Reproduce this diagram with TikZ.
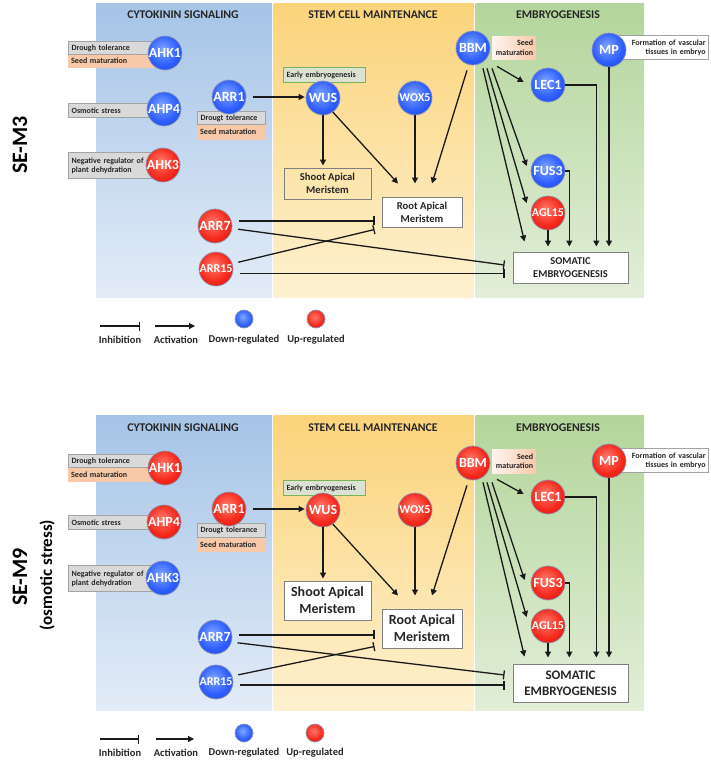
\documentclass[tikz,border=0pt]{standalone}
\usepackage{fontspec}
\setmainfont{Carlito}
\usetikzlibrary{arrows.meta,calc}
\definecolor{bA}{HTML}{7FA6FF}
\definecolor{bB}{HTML}{2F5EFF}
\definecolor{bC}{HTML}{0A2CD0}
\definecolor{rA}{HTML}{FF7A6A}
\definecolor{rB}{HTML}{F52A1E}
\definecolor{rC}{HTML}{C00000}
\definecolor{ringc}{HTML}{8C96B4}
\definecolor{bluetop}{HTML}{A5C4E7}
\definecolor{bluebot}{HTML}{E3ECF7}
\definecolor{yeltop}{HTML}{FBD37A}
\definecolor{yelbot}{HTML}{FDF1D0}
\definecolor{grntop}{HTML}{B3D59B}
\definecolor{grnbot}{HTML}{E2EED8}
\definecolor{lgray}{HTML}{D9D9D9}
\definecolor{dgray}{HTML}{A3A3A3}
\definecolor{peach}{HTML}{F7C9A9}
\definecolor{egreen}{HTML}{DCE2D2}
\definecolor{ggreen}{HTML}{7BB35A}
\definecolor{boxc}{HTML}{808080}
\definecolor{ink}{HTML}{1A1A1A}
\definecolor{txt}{HTML}{262626}
\pgfdeclareradialshading{blueball}{\pgfpoint{-4bp}{6bp}}{color(0bp)=(bA); color(22bp)=(bB); color(50bp)=(bC); color(80bp)=(bC)}
\pgfdeclareradialshading{redball}{\pgfpoint{-4bp}{6bp}}{color(0bp)=(rA); color(22bp)=(rB); color(50bp)=(rC); color(80bp)=(rC)}
\newcommand\gfs[2]{\bfseries\fontsize{#1}{#2}\selectfont}
\tikzset{
  gene/.style={circle, minimum size=34pt, inner sep=0pt, draw=ringc, line width=0.7pt, text=white, font=\gfs{14}{15}},
  dn/.style={gene, shading=blueball},
  up/.style={gene, shading=redball},
  lgball/.style={minimum size=18pt},
  ttl/.style={font=\gfs{11.8}{13}, text=txt},
  lab/.style={anchor=north west, inner xsep=3pt, inner ysep=0pt, font=\gfs{8}{9.5}, text=txt},
  gbox/.style={lab, fill=lgray, draw=dgray, line width=1.2pt, align=left},
  pbox/.style={lab, fill=peach, align=left},
  ebox/.style={lab, fill=egreen, draw=ggreen, line width=1.2pt, align=left},
  sbox/.style={lab, left color=peach!20, right color=peach, align=right},
  mbox/.style={lab, fill=white, draw=dgray, line width=1.2pt, align=right},
  res/.style={draw=boxc, line width=1pt, fill=white, align=center, text=txt, inner sep=0pt},
  act/.style={-{Triangle[length=6pt,width=6pt]}, line width=1.3pt, draw=ink},
  inh/.style={-{Bar[width=9pt,line width=1.3pt]}, line width=1.3pt, draw=ink},
  legtxt/.style={font=\gfs{10.5}{12}, text=txt},
  side/.style={rotate=90, text=black},
}
\begin{document}
\begin{tikzpicture}[x=1pt,y=-1pt]
\useasboundingbox (0,0) rectangle (711,761);

% ================= TOP PANEL (SE-M3) =================
\fill[top color=bluetop, bottom color=bluebot] (96,3) rectangle (272,297);
\fill[top color=yeltop, bottom color=yelbot] (273.5,3) rectangle (474,297);
\fill[top color=grntop, bottom color=grnbot] (475.5,3) rectangle (644,297);
\node[ttl] (t1) at (183,15) {CYTOKININ SIGNALING};
\node[ttl] (t2) at (373,15) {STEM CELL MAINTENANCE};
\node[ttl] (t3) at (558,15) {EMBRYOGENESIS};
\node[side, font=\gfs{22}{24}] (sm3) at (20,145) {SE-M3};

% labels
\node[pbox, minimum width=87pt, minimum height=14pt, text width=81pt] (a1p) at (68,54) {Seed maturation};
\node[gbox, minimum width=87pt, minimum height=13pt, text width=81pt] (a1g) at (68,41) {Drough tolerance};
\node[gbox, minimum width=85pt, minimum height=14pt, text width=79pt] (a4g) at (68,103) {Osmotic stress};
\node[gbox, minimum width=83pt, minimum height=26pt, text width=77pt] (a3g) at (68,152) {Negative regulator of\\plant dehydration};
\node[pbox, minimum width=68pt, minimum height=16pt, text width=62pt] (r1p) at (197,124) {Seed maturation};
\node[gbox, minimum width=68pt, minimum height=13pt, text width=62pt] (r1g) at (197,111) {Drougt tolerance};
\node[ebox, minimum width=82pt, minimum height=15pt, text width=76pt] (wl) at (283,67) {Early embryogenesis};
\node[sbox, minimum width=44pt, minimum height=23pt, text width=38pt] (bl) at (492,36) {Seed\\maturation};
\node[mbox, minimum width=91pt, minimum height=24pt, text width=85pt] (ml) at (617,35) {Formation of vascular\\tissues in embryo};

% genes
\node[dn] (ahk1) at (165,53) {AHK1};
\node[dn] (ahp4) at (164,109) {AHP4};
\node[up] (ahk3) at (163,165) {AHK3};
\node[dn] (arr1) at (229,97) {ARR1};
\node[up] (arr7) at (215,226) {ARR7};
\node[up, font=\gfs{12}{13}] (arr15) at (216,269) {ARR15};
\node[dn] (wus) at (323,98) {WUS};
\node[dn, font=\gfs{12}{13}] (wox5) at (415,98) {WOX5};
\node[dn] (bbm) at (473,48) {BBM};
\node[dn] (mp) at (609,50) {MP};
\node[dn] (lec1) at (548,85) {LEC1};
\node[dn] (fus3) at (548,171) {FUS3};
\node[up, font=\gfs{12}{13}] (agl15) at (548,213) {AGL15};

% result boxes
\node[res, fill=none, minimum width=87pt, minimum height=31pt, font=\gfs{10.6}{13}] (sam) at (327.5,183.5) {Shoot Apical\\Meristem};
\node[res, minimum width=80pt, minimum height=30pt, font=\gfs{10.6}{13}] (ram) at (422,212) {Root Apical\\Meristem};
\node[res, minimum width=115pt, minimum height=31pt, font=\gfs{10.5}{13}] (se) at (570.5,267.5) {SOMATIC\\EMBRYOGENESIS};

% connectors
\draw[act, shorten <=7pt, shorten >=1pt] (arr1.east) -- (arr1.east -| wus.west);
\draw[act, shorten >=2pt] (wus.south) -- (wus.south |- sam.north);
\coordinate (rtA) at ($(ram.north)+(-24,-13)$);
\coordinate (rtB) at ($(ram.north)+(-7,-13)$);
\coordinate (rtC) at ($(ram.north)+(10,-13)$);
\draw[act] (wus.-55) -- (rtA);
\draw[act] (wox5.south) -- (wox5.south |- rtB);
\draw[act] ($(bbm.south)+(-6,5)$) -- (rtC);
\draw[inh, shorten <=7pt, shorten >=7pt] (arr7.17) -- (arr7.17 -| ram.west);
\draw[inh, shorten <=6pt] (arr15.18) -- ($(ram.south west)+(-7,2)$);
\draw[inh, shorten <=6pt] (arr7.-8) -- ($(se.west)+(-8,-2.5)$);
\draw[inh, shorten <=7pt, shorten >=8pt] (arr15.-14) -- (arr15.-14 -| se.west);
\draw[act] ($(bbm.south)+(24,1)$) -- ($(lec1.west)+(-7,-3)$);
\draw[act] ($(bbm.south)+(19,3)$) -- ($(fus3.west)+(-4,-5)$);
\draw[act] ($(bbm.south)+(14,3)$) -- ($(agl15.west)+(-4,-10)$);
\draw[act] ($(bbm.south)+(10,3)$) -- ($(se.north west)+(12,-10)$);
\draw[act, shorten >=5pt] (agl15.south) -- (agl15.south |- se.north);
\draw[act, shorten >=5pt] (fus3.east) -| ($(fus3.east |- se.north)+(4,0)$);
\draw[act, shorten >=5pt] (lec1.east) -| ($(lec1.east |- se.north)+(31,0)$);
\draw[act, shorten >=5pt] (mp.south) -- (mp.south |- se.north);

% legend top
\coordinate (li1) at (100,326); \coordinate (li2) at (140,326);
\coordinate (la1) at (155,326); \coordinate (la2) at (195,326);
\draw[inh] (li1) -- (li2);
\draw[act] (la1) -- (la2);
\node[dn, lgball] (ld) at (244,319) {};
\node[up, lgball] (lu) at (316,319) {};
\node[legtxt] (lt1) at (120,340) {Inhibition};
\node[legtxt] (lt2) at (176,340) {Activation};
\node[legtxt] (lt3) at (244,340) {Down-regulated};
\node[legtxt] (lt4) at (316,340) {Up-regulated};

% ================= BOTTOM PANEL (SE-M9) =================
\fill[top color=bluetop, bottom color=bluebot] (96,415) rectangle (272,710);
\fill[top color=yeltop, bottom color=yelbot] (273.5,415) rectangle (474,710);
\fill[top color=grntop, bottom color=grnbot] (475.5,415) rectangle (644,710);
\node[ttl] (u1) at (183,428) {CYTOKININ SIGNALING};
\node[ttl] (u2) at (373,428) {STEM CELL MAINTENANCE};
\node[ttl] (u3) at (558,428) {EMBRYOGENESIS};
\node[side, font=\gfs{22}{24}] (sm9) at (20,577) {SE-M9};
\node[side, font=\gfs{17}{19}] (sos) at (47,575) {(osmotic stress)};

% labels
\node[pbox, minimum width=87pt, minimum height=15pt, text width=81pt] (b1p) at (68,467) {Seed maturation};
\node[gbox, minimum width=87pt, minimum height=13pt, text width=81pt] (b1g) at (68,454) {Drough tolerance};
\node[gbox, minimum width=85pt, minimum height=14pt, text width=79pt] (b4g) at (68,515) {Osmotic stress};
\node[gbox, minimum width=83pt, minimum height=26pt, text width=77pt] (b3g) at (68,565) {Negative regulator of\\plant dehydration};
\node[pbox, minimum width=68pt, minimum height=15pt, text width=62pt] (s1p) at (197,537) {Seed maturation};
\node[gbox, minimum width=68pt, minimum height=14pt, text width=62pt] (s1g) at (197,523) {Drougt tolerance};
\node[ebox, minimum width=82pt, minimum height=15pt, text width=76pt] (wl2) at (283,480) {Early embryogenesis};
\node[sbox, minimum width=44pt, minimum height=24pt, text width=38pt] (bl2) at (492,449) {Seed\\maturation};
\node[mbox, minimum width=91pt, minimum height=24pt, text width=85pt] (ml2) at (617,448) {Formation of vascular\\tissues in embryo};

% genes
\node[up] (bahk1) at (165,468) {AHK1};
\node[up] (bahp4) at (164,522) {AHP4};
\node[dn] (bahk3) at (163,578) {AHK3};
\node[up] (barr1) at (229,509) {ARR1};
\node[dn] (barr7) at (215,637) {ARR7};
\node[dn, font=\gfs{12}{13}] (barr15) at (216,682) {ARR15};
\node[up] (bwus) at (323,510) {WUS};
\node[up, font=\gfs{12}{13}] (bwox5) at (415,510) {WOX5};
\node[up] (bbbm) at (473,463) {BBM};
\node[up] (bmp) at (609,461) {MP};
\node[up] (blec1) at (548,497) {LEC1};
\node[up] (bfus3) at (548,583) {FUS3};
\node[up, font=\gfs{12}{13}] (bagl15) at (548,626) {AGL15};

% result boxes
\node[res, minimum width=87pt, minimum height=39pt, font=\gfs{14}{17}] (bsam) at (327.5,600.5) {Shoot Apical\\Meristem};
\node[res, minimum width=80pt, minimum height=39pt, font=\gfs{14}{17}] (bram) at (422,628.5) {Root Apical\\Meristem};
\node[res, minimum width=115pt, minimum height=38pt, font=\gfs{13}{16}] (bse) at (570.5,683) {SOMATIC\\EMBRYOGENESIS};

% connectors
\draw[act, shorten <=7pt, shorten >=1pt] (barr1.east) -- (barr1.east -| bwus.west);
\draw[act, shorten >=2pt] (bwus.south) -- (bwus.south |- bsam.north);
\coordinate (qtA) at ($(bram.north)+(-24,-13)$);
\coordinate (qtB) at ($(bram.north)+(-7,-13)$);
\coordinate (qtC) at ($(bram.north)+(10,-13)$);
\draw[act] (bwus.-55) -- (qtA);
\draw[act] (bwox5.south) -- (bwox5.south |- qtB);
\draw[act] ($(bbbm.south)+(-6,5)$) -- (qtC);
\draw[inh, shorten <=7pt, shorten >=7pt] (barr7.7) -- (barr7.7 -| bram.west);
\draw[inh, shorten <=6pt] (barr15.20) -- ($(bram.south west)+(-7,-2)$);
\draw[inh, shorten <=6pt] (barr7.-17) -- ($(bse.west)+(-8,-8)$);
\draw[inh, shorten <=7pt, shorten >=8pt] (barr15.-10) -- (barr15.-10 -| bse.west);
\draw[act] ($(bbbm.south)+(24,-1)$) -- ($(blec1.west)+(-7,-3)$);
\draw[act] ($(bbbm.south)+(19,2)$) -- ($(bfus3.west)+(-6,-3)$);
\draw[act] ($(bbbm.south)+(14,2)$) -- ($(bagl15.west)+(-4,-9)$);
\draw[act] ($(bbbm.south)+(10,2)$) -- ($(bse.north west)+(12,-7)$);
\draw[act, shorten >=6pt] (bagl15.south) -- (bagl15.south |- bse.north);
\draw[act, shorten >=6pt] (bfus3.east) -| ($(bfus3.east |- bse.north)+(4,0)$);
\draw[act, shorten >=6pt] (blec1.east) -| ($(blec1.east |- bse.north)+(31,0)$);
\draw[act, shorten >=6pt] (bmp.south) -- (bmp.south |- bse.north);

% legend bottom
\coordinate (mi1) at (100,739); \coordinate (mi2) at (139,739);
\coordinate (ma1) at (156,739); \coordinate (ma2) at (194,739);
\draw[inh] (mi1) -- (mi2);
\draw[act] (ma1) -- (ma2);
\node[dn, lgball] (md) at (244,733) {};
\node[up, lgball] (mu) at (315,733) {};
\node[legtxt] (mt1) at (120,753) {Inhibition};
\node[legtxt] (mt2) at (176,753) {Activation};
\node[legtxt] (mt3) at (244,753) {Down-regulated};
\node[legtxt] (mt4) at (315,753) {Up-regulated};
\end{tikzpicture}
\end{document}
